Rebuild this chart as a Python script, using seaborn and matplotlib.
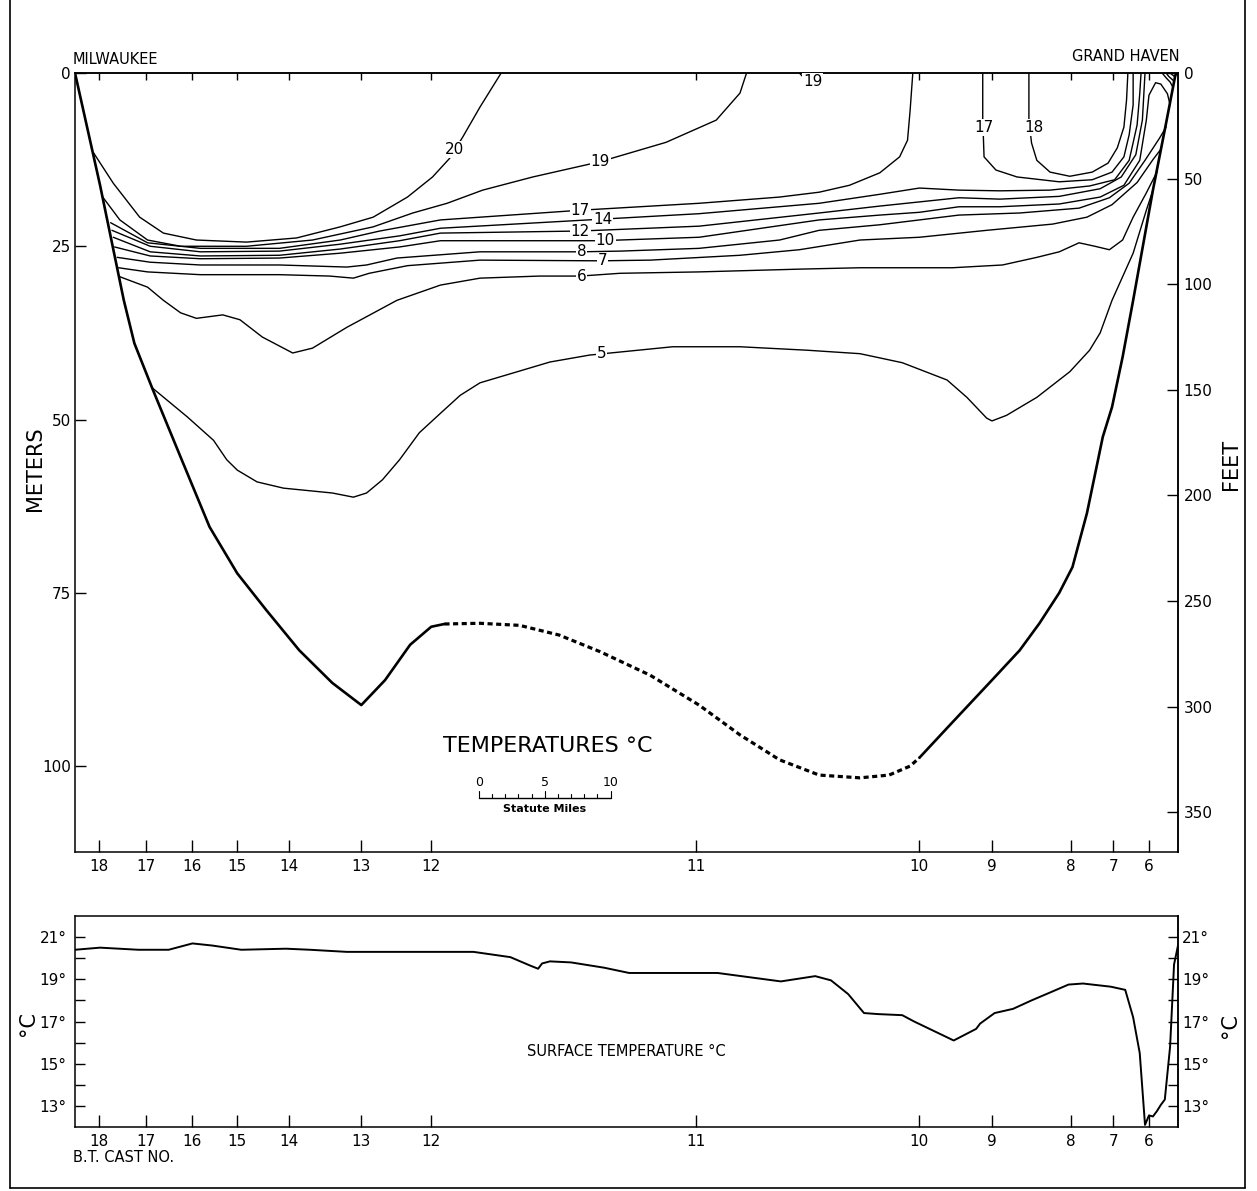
import matplotlib
matplotlib.use("Agg")
import matplotlib.pyplot as plt
import pandas as pd
import seaborn as sns
from matplotlib.lines import Line2D

# x: statute miles from Milwaukee, depth: meters
SECTION_MI = 83.6
MAX_DEPTH = 112.4

CAST_NO = ["18", "17", "16", "15", "14", "13", "12", "11", "10", "9", "8", "7", "6"]
CAST_MI = [1.8, 5.4, 8.9, 12.3, 16.2, 21.7, 27.0, 47.1, 64.0, 69.5, 75.5, 78.7, 81.4]

METER_TICKS = [0, 25, 50, 75, 100]
FEET_TICKS = [0, 50, 100, 150, 200, 250, 300, 350]

# lake bottom (sounded parts solid, inferred part dashed)
BOTTOM_WEST = [(0.0, 0.0), (1.9, 16.2), (3.7, 32.8), (4.5, 39.0), (5.9, 45.7), (8.0, 55.4),
               (10.2, 65.5), (12.3, 72.2), (14.5, 77.5), (17.0, 83.3), (19.5, 88.0), (21.7, 91.2),
               (23.5, 87.6), (25.4, 82.5), (27.0, 79.9), (28.0, 79.5)]
BOTTOM_MID = [(28.0, 79.5), (30.7, 79.4), (33.7, 79.7), (36.7, 81.1), (39.8, 83.5), (43.6, 86.9),
              (47.3, 91.2), (50.4, 95.5), (53.4, 99.1), (56.4, 101.3), (59.5, 101.7), (61.7, 101.3),
              (63.3, 100.0), (64.0, 98.8)]
BOTTOM_EAST = [(64.0, 98.8), (66.3, 94.1), (69.5, 87.6), (71.6, 83.3), (73.1, 79.4), (74.6, 75.0),
               (75.6, 71.3), (76.7, 63.5), (77.9, 52.5), (78.6, 48.2), (79.4, 41.0), (80.2, 32.8),
               (81.7, 16.9), (82.7, 7.2), (83.4, 0.3), (83.6, 0.0)]

# isotherms
ISO_20 = [(1.4, 11.5), (2.9, 15.9), (4.9, 20.8), (6.7, 23.1), (9.2, 24.1), (13.0, 24.4), (16.8, 23.8),
          (20.1, 22.2), (22.6, 20.8), (25.2, 17.9), (27.1, 15.0), (28.4, 12.3), (29.4, 9.2),
          (30.7, 4.9), (32.3, 0.0)]
ISO_19 = [(2.1, 17.9), (3.4, 21.2), (5.5, 24.1), (8.0, 25.0), (13.0, 25.0), (18.0, 24.1), (22.6, 22.2),
          (25.6, 20.2), (28.2, 18.8), (30.9, 16.9), (34.7, 15.0), (39.8, 12.8), (44.8, 10.0),
          (48.6, 6.8), (50.4, 2.9), (50.9, 0.0)]
ISO_19_SPOT = [(54.9, 0.0), (55.1, 0.4), (55.3, 0.6)]
ISO_17_WEST = [(2.7, 21.6), (5.5, 24.5), (9.5, 25.3), (15.5, 25.3), (20.1, 24.1), (23.1, 22.8),
               (27.7, 21.2), (38.3, 19.8), (47.3, 18.8), (53.4, 17.9), (56.4, 17.2), (58.7, 16.2),
               (61.0, 14.4), (62.5, 12.1), (63.1, 9.7), (63.3, 5.3), (63.5, 0.0)]
ISO_17_EAST = [(68.8, 0.0), (68.8, 6.5), (68.9, 12.1), (69.8, 14.0), (71.4, 15.0), (74.6, 15.7),
               (77.1, 15.4), (78.6, 14.3), (79.5, 12.1), (79.9, 8.9), (80.2, 4.6), (80.2, 0.0)]
ISO_18 = [(72.3, 0.0), (72.3, 6.8), (72.5, 10.1), (72.9, 12.6), (73.9, 14.3), (75.4, 14.9),
          (77.1, 14.3), (78.3, 13.0), (79.0, 10.8), (79.5, 7.8), (79.7, 3.9), (79.8, 0.0)]
ISO_14 = [(2.8, 22.7), (5.7, 25.0), (9.5, 25.8), (15.5, 25.7), (20.1, 24.7), (24.6, 23.5), (27.7, 22.4),
          (39.8, 21.1), (47.3, 20.3), (56.4, 18.8), (61.0, 17.5), (64.0, 16.6), (67.0, 16.9),
          (70.1, 17.0), (73.9, 16.9), (76.9, 16.3), (78.8, 15.4), (79.9, 12.6), (80.5, 7.5),
          (80.7, 3.0), (80.8, 0.0)]
ISO_12 = [(2.9, 23.7), (5.7, 25.8), (9.5, 26.4), (15.5, 26.3), (20.1, 25.4), (24.6, 24.2), (27.7, 23.1),
          (38.3, 22.8), (47.3, 22.1), (56.4, 20.2), (61.0, 19.2), (64.0, 18.6), (67.0, 18.0),
          (70.1, 18.2), (74.6, 17.8), (77.7, 16.7), (79.3, 15.0), (80.4, 11.8), (80.9, 6.8), (81.1, 0.0)]
ISO_10 = [(3.0, 25.1), (5.7, 26.4), (9.5, 26.8), (15.5, 26.7), (20.1, 26.0), (24.6, 25.1), (27.7, 24.2),
          (39.8, 24.2), (47.3, 23.7), (56.4, 21.2), (61.0, 20.5), (64.0, 20.1), (67.0, 19.3),
          (70.1, 19.3), (74.6, 18.9), (77.7, 17.9), (79.5, 16.2), (80.7, 12.6), (81.2, 6.8),
          (81.4, 3.2), (81.9, 1.4), (82.3, 1.6), (82.8, 3.0), (83.0, 4.6)]
ISO_8 = [(3.2, 26.6), (5.7, 27.3), (9.5, 27.7), (15.5, 27.7), (20.6, 28.0), (22.1, 27.7), (24.4, 26.7),
         (30.7, 25.8), (38.3, 25.8), (41.3, 25.7), (47.3, 25.3), (53.4, 24.1), (56.4, 22.7),
         (61.0, 21.9), (64.0, 21.2), (67.0, 20.5), (71.6, 20.2), (76.1, 19.5), (78.4, 18.0),
         (79.9, 15.9), (81.1, 12.6), (82.2, 9.4), (82.7, 7.8)]
ISO_7 = [(3.3, 28.1), (5.5, 28.7), (9.5, 29.1), (15.5, 29.1), (19.3, 29.3), (21.1, 29.6), (22.3, 28.9),
         (25.2, 27.8), (30.7, 27.0), (39.8, 27.1), (43.6, 27.0), (50.4, 26.3), (54.9, 25.5),
         (59.5, 24.1), (64.0, 23.7), (69.1, 22.7), (74.1, 21.8), (76.7, 20.8), (78.6, 19.0),
         (80.5, 15.8), (81.7, 12.5), (82.3, 11.0)]
ISO_6 = [(3.4, 29.4), (5.5, 30.9), (6.7, 32.8), (8.0, 34.6), (9.2, 35.4), (11.2, 34.9), (12.5, 35.6),
         (14.2, 38.1), (16.5, 40.4), (18.0, 39.7), (20.6, 36.7), (24.4, 32.8), (27.7, 30.6),
         (30.7, 29.6), (35.2, 29.3), (38.3, 29.3), (41.3, 28.9), (47.3, 28.7), (54.9, 28.3),
         (59.5, 28.1), (66.5, 28.1), (70.3, 27.7), (72.9, 26.6), (74.6, 25.8), (76.1, 24.5),
         (77.3, 25.0), (78.4, 25.5), (79.4, 24.1), (80.2, 20.8), (81.2, 17.3), (82.0, 14.3)]
ISO_5 = [(5.9, 45.5), (8.5, 49.6), (10.5, 53.0), (11.5, 55.8), (12.3, 57.3), (13.8, 59.0), (15.8, 59.9),
         (19.5, 60.6), (21.1, 61.2), (22.1, 60.6), (23.3, 58.7), (24.6, 55.8), (26.1, 51.9),
         (27.7, 49.1), (29.2, 46.5), (30.7, 44.7), (36.0, 41.7), (39.0, 40.7), (45.3, 39.5),
         (50.4, 39.5), (55.5, 40.0), (59.5, 40.5), (62.7, 41.8), (66.1, 44.3), (67.6, 46.8),
         (69.1, 49.8), (69.5, 50.2), (70.6, 49.4), (72.9, 46.8), (75.4, 43.1), (76.9, 40.0),
         (77.7, 37.5), (78.6, 32.8), (80.2, 26.0), (81.2, 19.8), (81.7, 16.9)]
SHORE_A = [(82.4, 0.0), (82.7, 0.7), (83.0, 1.3), (83.2, 2.0)]
SHORE_B = [(82.7, 0.0), (82.9, 0.5), (83.2, 1.0), (83.3, 1.3)]
SHORE_C = [(83.0, 0.0), (83.2, 0.3), (83.4, 0.6)]

ISO_LABELS = [("20", 28.8, 11.0), ("19", 39.8, 12.8), ("17", 38.3, 19.8), ("14", 40.0, 21.1),
              ("12", 38.3, 22.8), ("10", 40.2, 24.2), ("8", 38.4, 25.8), ("7", 40.0, 27.1),
              ("6", 38.4, 29.3), ("5", 39.9, 40.5), ("17", 68.9, 7.9), ("18", 72.7, 7.9),
              ("19", 55.9, 1.2)]

# surface temperature trace along the run
SURFACE_MI = [0.0, 1.9, 4.8, 7.1, 8.9, 10.4, 12.6, 16.0, 17.8, 20.6, 25.2, 30.2, 33.0, 34.5, 35.1,
              35.4, 36.0, 37.6, 40.1, 42.0, 48.7, 51.1, 53.5, 56.1, 57.3, 58.6, 59.8, 60.9, 62.7,
              63.6, 66.6, 68.3, 68.6, 69.7, 71.1, 72.5, 74.0, 75.3, 76.4, 78.5, 79.6, 80.2, 80.7,
              81.1, 81.4, 81.7, 82.0, 82.3, 82.6, 83.0, 83.3, 83.6]
SURFACE_T = [20.4, 20.5, 20.4, 20.4, 20.7, 20.6, 20.4, 20.45, 20.4, 20.3, 20.3, 20.3, 20.05, 19.65,
             19.5, 19.75, 19.85, 19.8, 19.55, 19.3, 19.3, 19.1, 18.9, 19.15, 18.95, 18.3, 17.4,
             17.35, 17.3, 17.0, 16.1, 16.65, 16.9, 17.4, 17.6, 18.0, 18.4, 18.75, 18.8, 18.65,
             18.5, 17.2, 15.5, 12.1, 12.55, 12.5, 12.75, 13.05, 13.3, 15.8, 19.7, 20.6]
SURFACE_TICKS = [13, 15, 17, 19, 21]
SURFACE_MINOR = [14, 16, 18, 20]

SCALE_MILES = [0, 5, 10]

W, H = 1257, 1191


def draw(ax, pts, lw=1.0, dashes=None):
    df = pd.DataFrame(pts, columns=["mi", "m"])
    sns.lineplot(data=df, x="mi", y="m", sort=False, estimator=None, color="black",
                 linewidth=lw, ax=ax, legend=False)
    ln = ax.lines[-1]
    ln.set_solid_joinstyle("round")
    if dashes:
        ln.set_linestyle((0, dashes))


def main() -> None:
    sns.set_theme(style="white")
    plt.rcParams["font.family"] = ["DejaVu Sans"]
    plt.rcParams["axes.linewidth"] = 1.1
    for key in ["text.color", "axes.labelcolor", "xtick.color", "ytick.color", "axes.edgecolor"]:
        plt.rcParams[key] = "black"

    fig = plt.figure(figsize=(W / 100, H / 100), dpi=100)
    ax = fig.add_axes([75 / W, 1 - 852 / H, 1103 / W, 779 / H])
    axb = fig.add_axes([75 / W, 1 - 1127 / H, 1103 / W, 211 / H])

    # ---- temperature section
    for pts in [ISO_20, ISO_19, ISO_19_SPOT, ISO_17_WEST, ISO_17_EAST, ISO_18, ISO_14, ISO_12,
                ISO_10, ISO_8, ISO_7, ISO_6, ISO_5, SHORE_A, SHORE_B, SHORE_C]:
        draw(ax, pts, lw=1.0)
    draw(ax, BOTTOM_WEST, lw=1.9)
    draw(ax, BOTTOM_MID, lw=2.3, dashes=(1.6, 1.1))
    draw(ax, BOTTOM_EAST, lw=1.9)

    for txt, x, y in ISO_LABELS:
        ax.text(x, y, txt, ha="center", va="center", fontsize=11, zorder=6,
                bbox=dict(boxstyle="square,pad=0.05", facecolor="white", edgecolor="none"))

    ax.set_xlim(0, SECTION_MI)
    ax.set_ylim(MAX_DEPTH, 0)
    ax.set_xlabel("")
    ax.set_ylabel("")
    ax.set_xticks(CAST_MI)
    ax.set_xticklabels(CAST_NO)
    ax.set_yticks(METER_TICKS)
    ax.tick_params(axis="x", direction="in", length=8.5, width=1, bottom=True, labelsize=11,
                   pad=5, colors="black")
    ax.tick_params(axis="y", direction="in", length=8, width=1, left=True, labelsize=11,
                   pad=3, colors="black")
    top = ax.secondary_xaxis("top")
    top.set_xticks(CAST_MI)
    top.tick_params(direction="in", length=5, width=1, labeltop=False)
    feet = ax.secondary_yaxis("right", functions=(lambda m: m / 0.3048, lambda f: f * 0.3048))
    feet.set_yticks(FEET_TICKS)
    feet.tick_params(direction="in", length=8, width=1, labelsize=11, pad=4)

    # scale bar
    x0, depth = 30.6, 104.6
    ax.plot([x0, x0 + SCALE_MILES[-1]], [depth, depth], color="black", lw=1.0)
    for i in range(SCALE_MILES[-1] + 1):
        h = 1.0 if i in SCALE_MILES else 0.6
        ax.plot([x0 + i, x0 + i], [depth, depth - h], color="black", lw=0.8)
    for v in SCALE_MILES:
        ax.text(x0 + v, depth - 2.2, str(v), ha="center", va="center", fontsize=9)
    ax.text(x0 + 5, depth + 1.6, "Statute Miles", ha="center", va="center", fontsize=8,
            fontweight="bold")
    ax.text(35.8, 97.1, "TEMPERATURES °C", ha="center", va="center", fontsize=16)

    fig.text(73 / W, 1 - 67 / H, "MILWAUKEE", ha="left", va="bottom", fontsize=10.5)
    fig.text(1180 / W, 1 - 64 / H, "GRAND HAVEN", ha="right", va="bottom", fontsize=10.5)
    fig.text(35 / W, 1 - 469 / H, "METERS", rotation=90, ha="center", va="center", fontsize=15)
    fig.text(1231 / W, 1 - 464 / H, "FEET", rotation=90, ha="center", va="center", fontsize=15)

    # ---- surface temperature
    surf = pd.DataFrame({"mi": SURFACE_MI, "t": SURFACE_T})
    sns.lineplot(data=surf, x="mi", y="t", sort=False, estimator=None, color="black",
                 linewidth=1.4, ax=axb)
    axb.set_xlim(0, SECTION_MI)
    axb.set_ylim(12, 22)
    axb.set_xlabel("")
    axb.set_ylabel("")
    axb.set_xticks(CAST_MI)
    axb.set_xticklabels(CAST_NO)
    axb.set_yticks(SURFACE_TICKS)
    axb.set_yticklabels([f"{t}°" for t in SURFACE_TICKS])
    axb.set_yticks(SURFACE_MINOR, minor=True)
    axb.tick_params(axis="x", direction="in", length=8.5, width=1, bottom=True, labelsize=11, pad=5)
    axb.tick_params(axis="y", which="both", direction="in", length=7.5, width=1, left=True,
                    labelsize=11, pad=6)
    rt = axb.secondary_yaxis("right")
    rt.set_yticks(SURFACE_TICKS)
    rt.set_yticklabels([f"{t}°" for t in SURFACE_TICKS])
    rt.set_yticks(SURFACE_MINOR, minor=True)
    rt.tick_params(which="both", direction="in", length=7.5, width=1, labelsize=11, pad=3)

    fig.text(626 / W, 1 - 1051 / H, "SURFACE TEMPERATURE °C", ha="center", va="center", fontsize=10.5)
    fig.text(73 / W, 1 - 1158 / H, "B.T. CAST NO.", ha="left", va="center", fontsize=10.5)
    fig.text(28 / W, 1 - 1023 / H, "°C", rotation=90, ha="center", va="center", fontsize=15)
    fig.text(1230 / W, 1 - 1025 / H, "°C", rotation=90, ha="center", va="center", fontsize=15)

    # page frame
    for xs, ys in [([10 / W, 10 / W], [1 - 1188 / H, 1]), ([1245 / W, 1245 / W], [1 - 1188 / H, 1]),
                   ([10 / W, 1245 / W], [1 - 1188 / H, 1 - 1188 / H])]:
        fig.add_artist(Line2D(xs, ys, color="black", lw=1.2, transform=fig.transFigure))

    fig.savefig("out.png", dpi=100, facecolor="white")
    plt.close(fig)


if __name__ == "__main__":
    main()
